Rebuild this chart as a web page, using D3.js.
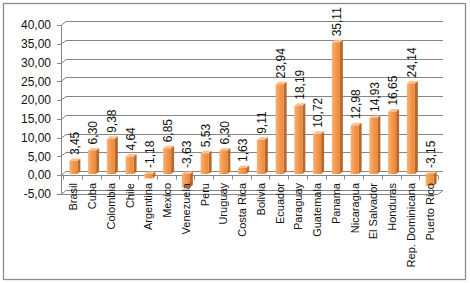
<!DOCTYPE html>
<html>
<head>
<meta charset="utf-8">
<script src="https://cdn.jsdelivr.net/npm/d3@7/dist/d3.min.js"></script>
<style>
    html, body { margin: 0; padding: 0; background: #fff; }
    svg { display: block; font-family: "Liberation Sans", Arial, sans-serif; }
</style>
</head>
<body>
<div id="chart"></div>
<script>
var countries = ["Brasil", "Cuba", "Colombia", "Chile", "Argentina", "Mexico", "Venezuela",
    "Peru", "Uruguay", "Costa Rica", "Bolivia", "Ecuador", "Paraguay", "Guatemala", "Panama",
    "Nicaragua", "El Salvador", "Honduras", "Rep. Dominicana", "Puerto Rico"];
var values = [3.45, 6.30, 9.38, 4.64, -1.18, 6.85, -3.63, 5.53, 6.30, 1.63, 9.11, 23.94,
    18.19, 10.72, 35.11, 12.98, 14.93, 16.65, 24.14, -3.15];
var yTicks = [-5, 0, 5, 10, 15, 20, 25, 30, 35, 40];

(function () {
    "use strict";

    var W = 470, H = 283;
    // depth offset of the back wall
    var dx = 5, dy = -4;
    var left = 61, right = 438;

    var svg = d3.select("#chart").append("svg")
        .attr("width", W)
        .attr("height", H);

    var defs = svg.append("defs");
    var grad = defs.append("linearGradient").attr("id", "front")
        .attr("x1", "0%").attr("x2", "100%").attr("y1", "0%").attr("y2", "0%");
    grad.append("stop").attr("offset", "0%").attr("stop-color", "#f8b27a");
    grad.append("stop").attr("offset", "45%").attr("stop-color", "#f79a4e");
    grad.append("stop").attr("offset", "100%").attr("stop-color", "#e7883c");

    // chart border
    svg.append("rect")
        .attr("x", 3.5).attr("y", 3.5)
        .attr("width", 462).attr("height", 276)
        .attr("fill", "#fff")
        .attr("stroke", "#8c8c8c")
        .attr("stroke-width", 1.3);

    var y = d3.scaleLinear().domain([-5, 40]).range([193.75, 25]);
    var x = d3.scaleBand().domain(countries).range([left + 3, right + 1]).padding(0);

    // comma decimals, plain hyphen for negatives
    var fmt = function (v) {
        return d3.format(".2f")(v).replace(".", ",").replace("\u2212", "-");
    };

    // back wall gridlines + side connectors
    var grid = svg.append("g").attr("stroke", "#868686").attr("stroke-width", 1).attr("fill", "none");
    yTicks.forEach(function (t) {
        var yy = Math.round(y(t)) + 0.5;
        grid.append("line")
            .attr("x1", left + dx).attr("x2", right + dx)
            .attr("y1", yy + dy).attr("y2", yy + dy);
        grid.append("path")
            .attr("d", "M" + (left - 4) + "," + yy + "H" + left + "L" + (left + dx) + "," + (yy + dy));
    });

    // value axis line
    grid.append("line")
        .attr("x1", left + 0.5).attr("x2", left + 0.5)
        .attr("y1", y(40)).attr("y2", y(-5));

    // floor front edge and right edge
    var yf = Math.round(y(-5)) + 0.5;
    grid.append("path")
        .attr("d", "M" + left + "," + yf + "H" + right + "L" + (right + dx) + "," + (yf + dy));

    // category axis at zero with ticks between categories
    var y0 = Math.round(y(0)) + 0.5;
    grid.append("line")
        .attr("x1", left).attr("x2", right)
        .attr("y1", y0).attr("y2", y0);
    countries.forEach(function (c) {
        var xx = Math.round(x(c) - 1) + 0.5;
        grid.append("line")
            .attr("x1", xx).attr("x2", xx)
            .attr("y1", y0).attr("y2", y0 + 4);
    });
    grid.append("line")
        .attr("x1", right + 0.5).attr("x2", right + 0.5)
        .attr("y1", y0).attr("y2", y0 + 4);

    // y tick labels
    svg.append("g").selectAll("text")
        .data(yTicks)
        .join("text")
        .attr("x", 51)
        .attr("y", function (d) { return y(d); })
        .attr("dy", "0.36em")
        .attr("text-anchor", "end")
        .attr("font-size", "12px")
        .attr("fill", "#111")
        .text(fmt);

    // bars
    var bw = 8, sx = 3, sy = -2.5, ox = 1, oy = -1;
    var bars = svg.append("g").selectAll("g")
        .data(values.map(function (v, i) { return { c: countries[i], v: v }; }))
        .join("g");

    bars.each(function (d) {
        var g = d3.select(this);
        var cx = x(d.c) + x.bandwidth() / 2 - 1;
        var x0 = cx - bw / 2 + ox, x1 = x0 + bw;
        var yt = y(Math.max(d.v, 0)) + oy, yb = y(Math.min(d.v, 0)) + oy;
        g.append("path")
            .attr("d", "M" + x1 + "," + yt + "L" + (x1 + sx) + "," + (yt + sy) + "V" + (yb + sy) + "L" + x1 + "," + yb + "Z")
            .attr("fill", "#b9682c");
        g.append("path")
            .attr("d", "M" + x0 + "," + yt + "L" + (x0 + sx) + "," + (yt + sy) + "H" + (x1 + sx) + "L" + x1 + "," + yt + "Z")
            .attr("fill", "#f9c094");
        g.append("rect")
            .attr("x", x0).attr("y", yt)
            .attr("width", bw).attr("height", Math.max(yb - yt, 0.5))
            .attr("fill", "url(#front)");
    });

    // value labels
    svg.append("g").selectAll("text")
        .data(values)
        .join("text")
        .attr("transform", function (d, i) {
            var cx = x(countries[i]) + x.bandwidth() / 2 + 1;
            var yy = y(Math.max(d, 0)) - 7;
            return "translate(" + cx + "," + yy + ") rotate(-90)";
        })
        .attr("dy", "0.36em")
        .attr("font-size", "12px")
        .attr("fill", "#111")
        .text(fmt);

    // category labels
    svg.append("g").selectAll("text")
        .data(countries)
        .join("text")
        .attr("transform", function (d) {
            return "translate(" + (x(d) + x.bandwidth() / 2) + ",183) rotate(-90)";
        })
        .attr("dy", "0.36em")
        .attr("text-anchor", "end")
        .attr("font-size", "11px")
        .attr("fill", "#111")
        .text(function (d) { return d; });
})();
</script>
</body>
</html>
